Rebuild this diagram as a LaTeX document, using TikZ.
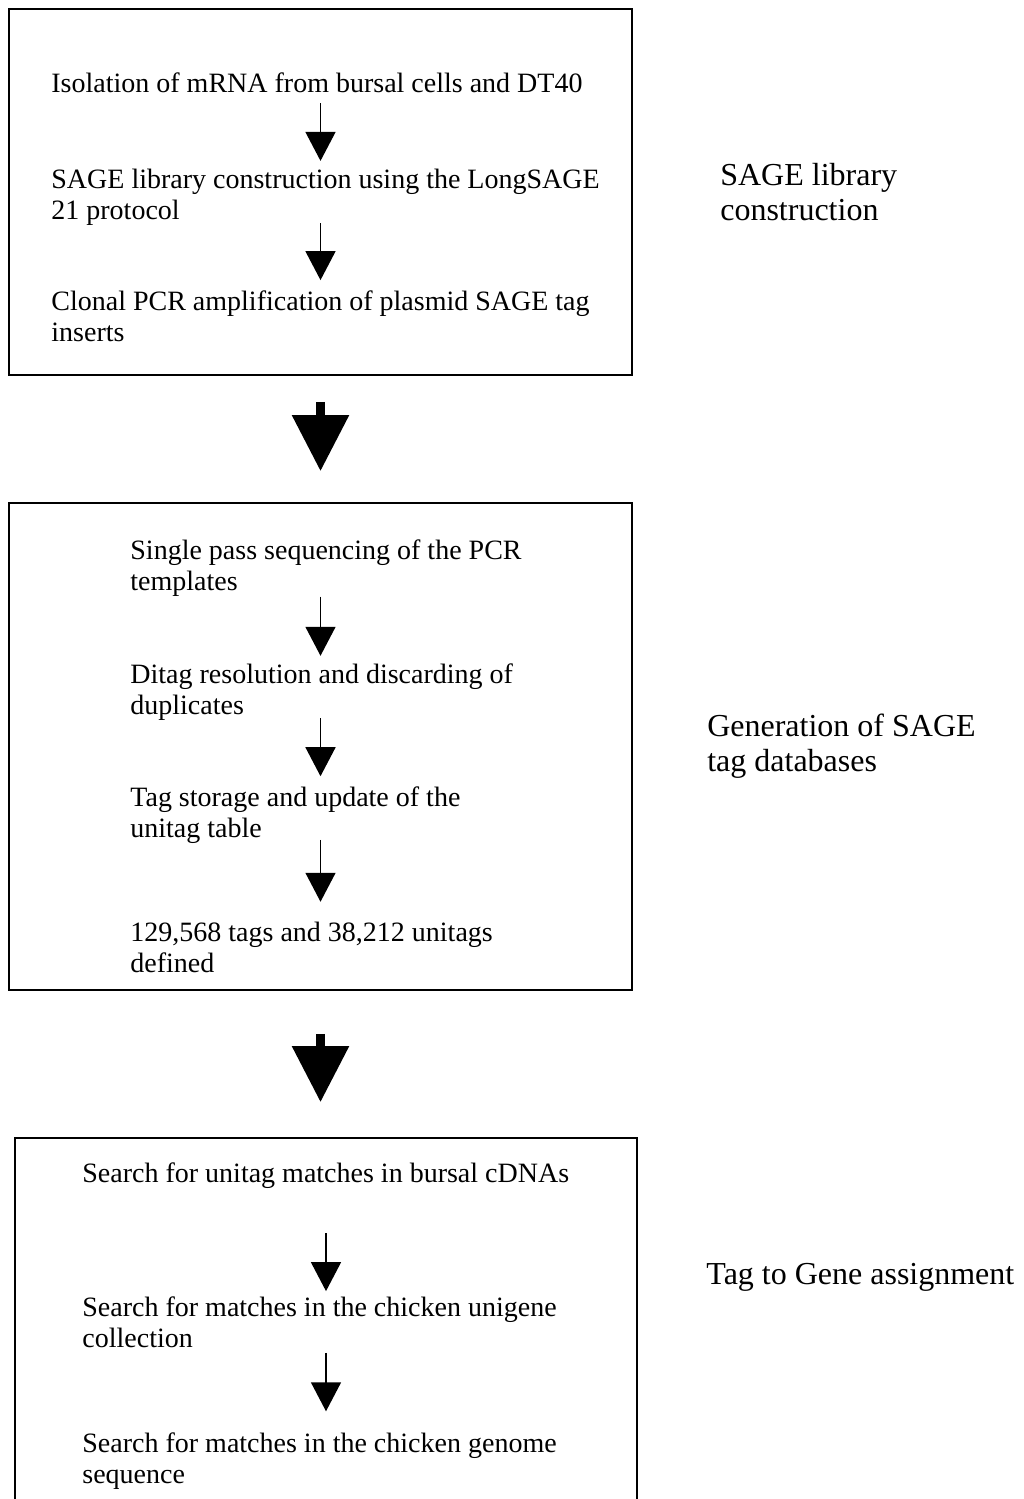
\documentclass[tikz,border=0pt]{standalone}
\usepackage{fontspec}
\setmainfont{Liberation Serif}
\usetikzlibrary{arrows.meta,positioning}
\tikzset{
  stagebox/.style={draw, line width=0.9pt, inner sep=0pt, minimum width=311.5pt},
  steptext/.style={anchor=west, align=left, inner sep=0pt, font=\fontsize{14}{15.5}\selectfont},
  sidetext/.style={anchor=west, align=left, inner sep=0pt, font=\fontsize{16}{17.5}\selectfont},
  thinarr/.style={-{Triangle[length=14.5pt, width=15pt]}, line width=0.75pt, shorten <=4pt, shorten >=5pt},
  bigarr/.style={-{Triangle[length=28pt, width=27.5pt]}, line width=4.5pt}
}
\begin{document}
\begin{tikzpicture}[x=0.5pt,y=-0.5pt]
  \useasboundingbox (0,0) rectangle (1023,1499);
  % stage boxes
  \node[stagebox, minimum height=183pt] (box1) at (320.5,192) {};
  \node[stagebox, minimum height=243.5pt] (box2) at (320.5,746.5) {};
  \node[stagebox, minimum width=311pt, minimum height=211pt] (box3) at (326,1349) {};
  % library construction
  \node[steptext] (iso) at (51,83) {Isolation of mRNA from bursal cells and DT40};
  \node[steptext] (lib) at (51,197.5) {SAGE library construction using the LongSAGE\\21 protocol};
  \node[steptext] (clonal) at (51,316) {Clonal PCR amplification of plasmid SAGE tag\\inserts};
  \draw[thinarr, shorten <=5pt, shorten >=4pt] (iso.south -| box1.north) -- (lib.north -| box1.north);
  \draw[thinarr, shorten <=-1.5pt] (lib.south -| box1.north) -- (clonal.north -| box1.north);
  % tag databases
  \node[steptext] (single) at (130,568) {Single pass sequencing of the PCR\\templates};
  \node[steptext] (ditag) at (130,692.5) {Ditag resolution and discarding of\\duplicates};
  \node[steptext] (store) at (130,815) {Tag storage and update of the\\unitag table};
  \node[steptext] (counts) at (130,947.5) {129,568 tags and 38,212 unitags\\defined};
  \draw[thinarr, shorten <=0pt, shorten >=4pt] (single.south -| box2.north) -- (ditag.north -| box2.north);
  \draw[thinarr, shorten <=-1.5pt] (ditag.south -| box2.north) -- (store.north -| box2.north);
  \draw[thinarr, shorten <=-2pt, shorten >=10pt] (store.south -| box2.north) -- (counts.north -| box2.north);
  % gene assignment
  \node[steptext] (bursal) at (82,1176) {Search for unitag matches in bursal cDNAs};
  \node[steptext] (unigene) at (82,1322) {Search for matches in the chicken unigene\\collection};
  \node[steptext] (genome) at (82,1461) {Search for matches in the chicken genome\\sequence};
  \draw[thinarr, shorten <=22pt, shorten >=2.5pt] (bursal.south -| box3.north) -- (unigene.north -| box3.north);
  \draw[thinarr, shorten <=2.5pt, shorten >=10.5pt] (unigene.south -| box3.north) -- (genome.north -| box3.north);
  % stage labels
  \node[sidetext, right=43.5pt of box1] (lab1) {SAGE library\\construction};
  \node[sidetext, right=37pt of box2] (lab2) {Generation of SAGE\\tag databases};
  \node[sidetext] (lab3) at (706,1277) {Tag to Gene assignment};
  % between stages
  \draw[bigarr, shorten <=13pt, shorten >=15.5pt] (box1.south) -- (box2.north);
  \draw[bigarr, shorten <=21.5pt, shorten >=17.5pt] (box2.south) -- (box2.south |- box3.north);
\end{tikzpicture}
\end{document}
